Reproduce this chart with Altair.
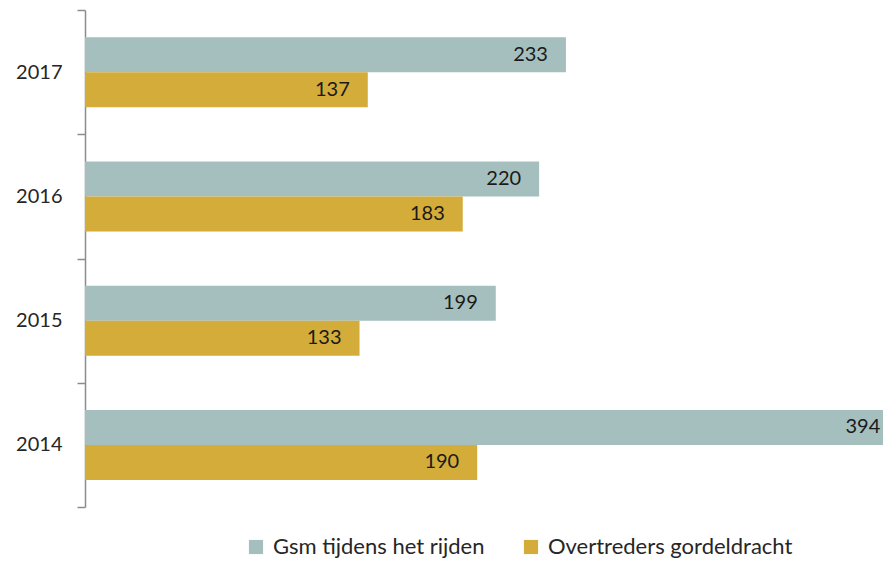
import altair as alt
import pandas as pd

years = ["2017", "2016", "2015", "2014"]
series = ["Gsm tijdens het rijden", "Overtreders gordeldracht"]
gsm = [233, 220, 199, 394]
gordel = [137, 183, 133, 190]
colors = ["#A5BFBF", "#D4AC3A"]

rows = []
for i, y in enumerate(years):
    rows.append({"jaar": y, "reeks": series[0], "waarde": gsm[i]})
    rows.append({"jaar": y, "reeks": series[1], "waarde": gordel[i]})
df = pd.DataFrame(rows)

FONT = "Lato"
x_enc = alt.X("waarde:Q", scale=alt.Scale(domain=[0, 386.6], nice=False, zero=True), axis=None)
y_enc = alt.Y(
    "jaar:N",
    sort=years,
    scale=alt.Scale(paddingInner=0, paddingOuter=0),
    axis=alt.Axis(
        title=None, tickBand="extent", tickSize=8, labelPadding=15,
        domainColor="#8c8c8c", tickColor="#8c8c8c", domainWidth=1.5, tickWidth=1.5,
        labelFont=FONT, labelFontSize=20, labelColor="#262626", grid=False,
    ),
)
yoff = alt.YOffset("reeks:N", sort=series, scale=alt.Scale(paddingInner=0, paddingOuter=0.775))

bars = alt.Chart(df).mark_bar(clip=True).encode(
    x=x_enc,
    y=y_enc,
    yOffset=yoff,
    color=alt.Color(
        "reeks:N",
        sort=series,
        scale=alt.Scale(domain=series, range=colors),
        legend=alt.Legend(
            title=None, orient="none", legendX=160, legendY=526,
            direction="horizontal", symbolType="square", symbolSize=200,
            symbolStrokeWidth=0, labelFont=FONT, labelFontSize=22,
            labelColor="#262626", columnPadding=35, labelOffset=6,
            labelLimit=500,
        ),
    ),
)

labels = alt.Chart(df).mark_text(
    align="right", baseline="middle", dx=-18, font=FONT, fontSize=20, color="#1a1a1a"
).encode(
    x=x_enc,
    y=y_enc,
    yOffset=yoff,
    text="waarde:Q",
)

chart = (bars + labels).properties(
    width=798,
    height=497,
    padding={"left": 77, "top": 2, "right": 0, "bottom": 53},
    autosize=alt.AutoSizeParams(type="none"),
).configure_view(stroke=None)

chart.save("out.html", embed_options={"renderer": "svg", "actions": False})
